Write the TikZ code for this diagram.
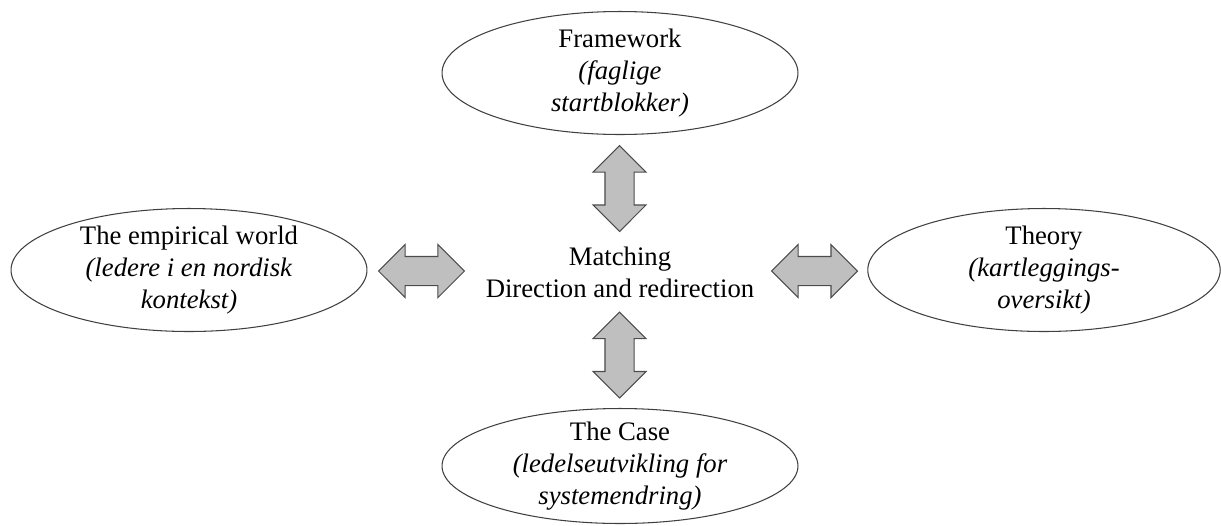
\documentclass[tikz,border=0pt]{standalone}
\usepackage{fontspec}
\setmainfont{Liberation Serif}
\usetikzlibrary{shapes.geometric,shapes.arrows}
\begin{document}
\begin{tikzpicture}[x=0.02cm, y=-0.02cm,
    every node/.style = {font=\fontsize{15.2}{18.2}\selectfont, align=center},
    oval/.style = {draw=black!75, line width=0.6pt, ellipse, inner xsep=0pt, inner ysep=-4mm, minimum width=7.12cm, minimum height=2.46cm},
    dbl/.style = {draw=black!70, fill=black!25, line width=0.6pt, double arrow, double arrow head extend=0.24cm, double arrow tip angle=90, inner xsep=0pt, inner ysep=0.28cm, minimum height=1.72cm}]
    \useasboundingbox (0,0) rectangle (1221,525);

    \node[oval] (frame) at (620, 73) {Framework\\ \textit{(faglige}\\ \textit{startblokker)}};
    \node[oval] (emp) at (189, 270) {The empirical world\\ \textit{(ledere i en nordisk}\\ \textit{kontekst)}};
    \node[oval, minimum width=7.05cm] (theory) at (1044, 270) {Theory\\ \textit{(kartleggings-}\\ \textit{oversikt)}};
    \node[oval, minimum height=2.3cm] (case) at (620, 466) {The Case\\ \textit{(ledelseutvikling for}\\ \textit{systemendring)}};

    \node (match) at (620, 272) {Matching\\ Direction and redirection};

    \node[dbl, rotate=90] (a1) at (619.5, 188.5) {};
    \node[dbl, rotate=90] (a2) at (619.5, 355) {};
    \node[dbl] (a3) at (421.5, 271) {};
    \node[dbl] (a4) at (814.5, 271) {};

\end{tikzpicture}
\end{document}
